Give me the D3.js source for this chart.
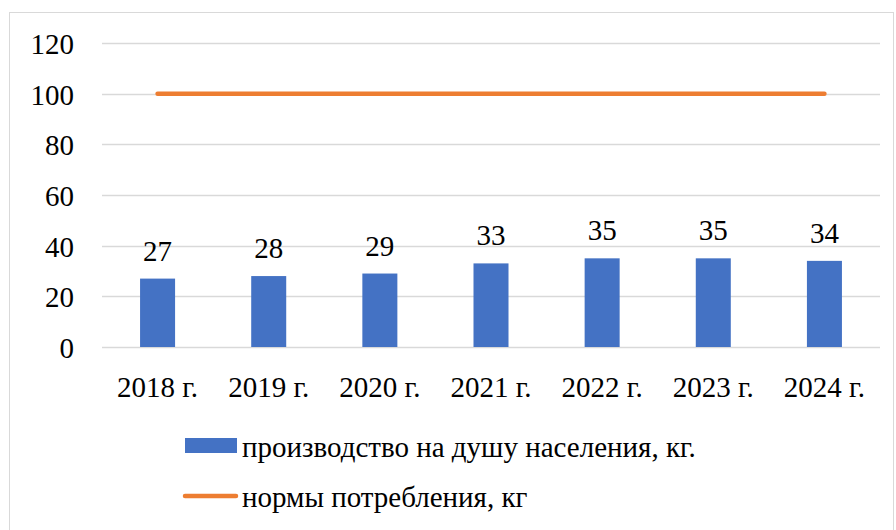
<!DOCTYPE html>
<html>
<head>
<meta charset="utf-8">
<script src="https://cdn.jsdelivr.net/npm/d3@7"></script>
<style>
  body { margin: 0; background: #fff; }
  svg text { font-family: "Liberation Serif", Tinos, FreeSerif, serif !important; }
</style>
</head>
<body>
<div id="canvas"></div>
<script>
"use strict"

let svgWidth = 896;
let svgHeight = 530;

/* plot area edges */
let leftMargin = 102
let rightMargin = 16
let topMargin = 43
let bottomMargin = 183

// data
let years = ["2018 г.", "2019 г.", "2020 г.", "2021 г.", "2022 г.", "2023 г.", "2024 г."];
let production = [27, 28, 29, 33, 35, 35, 34];
let norms = [100, 100, 100, 100, 100, 100, 100];
let yTicks = [0, 20, 40, 60, 80, 100, 120];
let legendLabels = ["производство на душу населения, кг.", "нормы потребления, кг"];

let blue = "#4472C4";
let orange = "#ED7D31";
let fontSize = "29px";
let fontFamily = "Liberation Serif";

let svg = d3.select("#canvas")
    .append("svg")
    .attr("width", svgWidth)
    .attr("height", svgHeight)
    .attr("font-family", fontFamily);

/* outer chart border */
svg.append("rect")
    .attr("x", 9.5)
    .attr("y", 12.5)
    .attr("width", 884)
    .attr("height", 530)
    .attr("fill", "none")
    .attr("stroke", "#d9d9d9");

let xScale = d3.scaleBand()
    .domain(years)
    .range([leftMargin, svgWidth - rightMargin])
    .paddingInner(0.685)
    .paddingOuter(0.3425);

let xCenter = d3.scalePoint()
    .domain(years)
    .range([leftMargin, svgWidth - rightMargin])
    .padding(0.5);

let yScale = d3.scaleLinear()
    .domain([0, 120])
    .range([svgHeight - bottomMargin, topMargin]);

/* gridlines */
svg.append("g")
    .selectAll("line")
    .data(yTicks)
    .join("line")
    .attr("x1", leftMargin)
    .attr("x2", svgWidth - rightMargin)
    .attr("y1", d => Math.round(yScale(d)) + 0.5)
    .attr("y2", d => Math.round(yScale(d)) + 0.5)
    .attr("stroke", "#d9d9d9")
    .attr("stroke-width", 1.5);

/* y tick labels */
svg.append("g")
    .selectAll("text")
    .data(yTicks)
    .join("text")
    .attr("x", 74)
    .attr("y", d => yScale(d) + 11)
    .attr("font-family", fontFamily)
    .style("text-anchor", "end")
    .style("font-size", fontSize)
    .text(d => d);

/* bars */
svg.append("g")
    .selectAll("rect")
    .data(production)
    .join("rect")
    .attr("x", (d, i) => xScale(years[i]))
    .attr("y", d => yScale(d))
    .attr("width", xScale.bandwidth())
    .attr("height", d => yScale(0) - yScale(d))
    .attr("fill", blue);

/* value labels */
svg.append("g")
    .selectAll("text")
    .data(production)
    .join("text")
    .attr("x", (d, i) => xCenter(years[i]))
    .attr("y", d => yScale(d) - 18)
    .attr("font-family", fontFamily)
    .style("text-anchor", "middle")
    .style("font-size", fontSize)
    .text(d => d);

/* x labels */
svg.append("g")
    .selectAll("text")
    .data(years)
    .join("text")
    .attr("x", d => xCenter(d))
    .attr("y", 397)
    .attr("font-family", fontFamily)
    .style("text-anchor", "middle")
    .style("font-size", fontSize)
    .text(d => d);

/* norm line */
let line = d3.line()
    .x((d, i) => xCenter(years[i]))
    .y(d => yScale(d));

svg.append("path")
    .datum(norms)
    .attr("d", line)
    .attr("fill", "none")
    .attr("stroke", orange)
    .attr("stroke-width", 4.5)
    .attr("stroke-linecap", "round");

/* legend */
svg.append("rect")
    .attr("x", 185)
    .attr("y", 438)
    .attr("width", 52)
    .attr("height", 15)
    .attr("fill", blue);

svg.append("text")
    .attr("x", 242)
    .attr("y", 457)
    .attr("font-family", fontFamily)
    .style("font-size", fontSize)
    .text(legendLabels[0]);

svg.append("line")
    .attr("x1", 185)
    .attr("x2", 236)
    .attr("y1", 496)
    .attr("y2", 496)
    .attr("stroke", orange)
    .attr("stroke-width", 4.5)
    .attr("stroke-linecap", "round");

svg.append("text")
    .attr("x", 242)
    .attr("y", 507)
    .attr("font-family", fontFamily)
    .style("font-size", fontSize)
    .text(legendLabels[1]);
</script>
</body>
</html>
